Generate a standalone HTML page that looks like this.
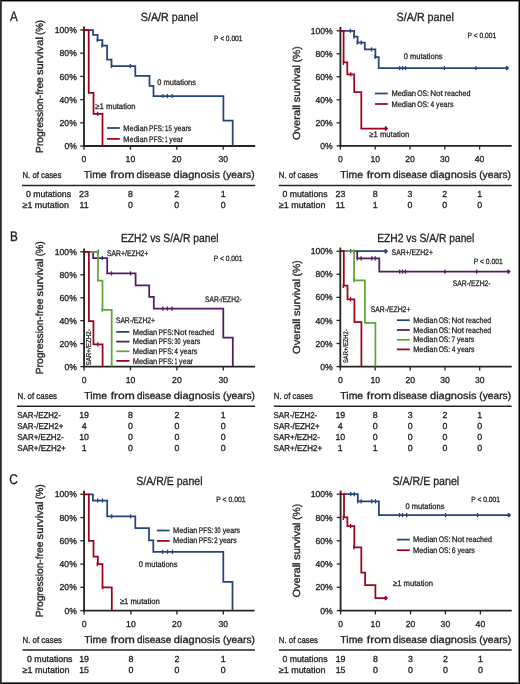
<!DOCTYPE html>
<html><head><meta charset="utf-8"><title>Kaplan-Meier survival curves</title>
<style>
html,body{margin:0;padding:0;background:#fff;}
body{width:520px;height:684px;overflow:hidden;}
svg{display:block;will-change:transform;font-family:"Liberation Sans", sans-serif;text-rendering:geometricPrecision;} text{stroke:#231f20;stroke-width:0.32px;} text.s{stroke-width:0.28px;}
</style></head><body>
<svg width="520" height="684" viewBox="0 0 520 684">
<rect x="0" y="0" width="520" height="684" fill="#fff"/>
<g shape-rendering="crispEdges">
<rect x="0" y="1" width="520" height="1" fill="rgb(140,140,140)"/>
<rect x="0" y="682" width="520" height="1" fill="rgb(100,100,100)"/>
<rect x="518" y="0" width="1" height="684" fill="rgb(128,128,128)"/>
<rect x="1" y="0" width="1" height="684" fill="rgb(85,85,85)"/>
<rect x="0" y="0" width="520" height="1" fill="rgb(5,5,5)"/>
<rect x="0" y="683" width="520" height="1" fill="rgb(20,20,20)"/>
<rect x="0" y="0" width="1" height="684" fill="rgb(45,45,45)"/>
<rect x="519" y="0" width="1" height="684" fill="rgb(5,5,5)"/>
</g>
<text x="10.00" y="20.90" font-size="14" text-anchor="start" fill="#231f20" textLength="7.73" lengthAdjust="spacingAndGlyphs">A</text>
<text x="140.75" y="21.40" font-size="11.8" text-anchor="start" fill="#231f20" textLength="57.30" lengthAdjust="spacingAndGlyphs">S/A/R panel</text>
<text x="214.00" y="40.60" font-size="7.7" text-anchor="start" fill="#231f20" textLength="28.50" lengthAdjust="spacingAndGlyphs" class="s">P &lt; 0.001</text>
<line x1="84.00" y1="26.50" x2="84.00" y2="146.90" stroke="#252525" stroke-width="1.85"/>
<line x1="83.10" y1="146.00" x2="255.20" y2="146.00" stroke="#252525" stroke-width="1.8"/>
<line x1="80.20" y1="30.00" x2="84.00" y2="30.00" stroke="#252525" stroke-width="1.3"/>
<line x1="80.20" y1="53.20" x2="84.00" y2="53.20" stroke="#252525" stroke-width="1.3"/>
<line x1="80.20" y1="76.40" x2="84.00" y2="76.40" stroke="#252525" stroke-width="1.3"/>
<line x1="80.20" y1="99.60" x2="84.00" y2="99.60" stroke="#252525" stroke-width="1.3"/>
<line x1="80.20" y1="122.80" x2="84.00" y2="122.80" stroke="#252525" stroke-width="1.3"/>
<line x1="80.20" y1="146.00" x2="84.00" y2="146.00" stroke="#252525" stroke-width="1.3"/>
<line x1="84.00" y1="146.00" x2="84.00" y2="149.80" stroke="#252525" stroke-width="1.3"/>
<line x1="130.40" y1="146.00" x2="130.40" y2="149.80" stroke="#252525" stroke-width="1.3"/>
<line x1="176.80" y1="146.00" x2="176.80" y2="149.80" stroke="#252525" stroke-width="1.3"/>
<line x1="223.20" y1="146.00" x2="223.20" y2="149.80" stroke="#252525" stroke-width="1.3"/>
<text x="76.80" y="33.10" font-size="8.6" text-anchor="end" fill="#231f20">100%</text>
<text x="76.80" y="56.30" font-size="8.6" text-anchor="end" fill="#231f20">80%</text>
<text x="76.80" y="79.50" font-size="8.6" text-anchor="end" fill="#231f20">60%</text>
<text x="76.80" y="102.70" font-size="8.6" text-anchor="end" fill="#231f20">40%</text>
<text x="76.80" y="125.90" font-size="8.6" text-anchor="end" fill="#231f20">20%</text>
<text x="76.80" y="149.10" font-size="8.6" text-anchor="end" fill="#231f20">0%</text>
<text x="84.00" y="161.70" font-size="8.6" text-anchor="middle" fill="#231f20">0</text>
<text x="130.40" y="161.70" font-size="8.6" text-anchor="middle" fill="#231f20">10</text>
<text x="176.80" y="161.70" font-size="8.6" text-anchor="middle" fill="#231f20">20</text>
<text x="223.20" y="161.70" font-size="8.6" text-anchor="middle" fill="#231f20">30</text>
<text transform="translate(43.10,152.90) rotate(-90)" font-size="10.3" text-anchor="start" fill="#231f20" textLength="75.73" lengthAdjust="spacingAndGlyphs">Progression-free</text>
<text transform="translate(43.10,75.03) rotate(-90)" font-size="10.3" text-anchor="start" fill="#231f20" textLength="37.90" lengthAdjust="spacingAndGlyphs">survival</text>
<text transform="translate(43.10,34.96) rotate(-90)" font-size="10.3" text-anchor="start" fill="#231f20" textLength="15.04" lengthAdjust="spacingAndGlyphs">(%)</text>
<text x="83.89" y="177.80" font-size="10.1" text-anchor="start" fill="#231f20" textLength="22.79" lengthAdjust="spacingAndGlyphs">Time</text>
<text x="110.38" y="177.80" font-size="10.1" text-anchor="start" fill="#231f20" textLength="24.05" lengthAdjust="spacingAndGlyphs">from</text>
<text x="136.61" y="177.80" font-size="10.1" text-anchor="start" fill="#231f20" textLength="34.30" lengthAdjust="spacingAndGlyphs">disease</text>
<text x="173.56" y="177.80" font-size="10.1" text-anchor="start" fill="#231f20" textLength="46.44" lengthAdjust="spacingAndGlyphs">diagnosis</text>
<text x="222.79" y="177.80" font-size="10.1" text-anchor="start" fill="#231f20" textLength="31.84" lengthAdjust="spacingAndGlyphs">(years)</text>
<text x="157.30" y="84.90" font-size="8.1" text-anchor="start" fill="#231f20" textLength="38.70" lengthAdjust="spacingAndGlyphs" class="s">0 mutations</text>
<text x="95.30" y="108.70" font-size="8.1" text-anchor="start" fill="#231f20" textLength="40.30" lengthAdjust="spacingAndGlyphs" class="s">≥1 mutation</text>
<line x1="107.00" y1="128.00" x2="119.80" y2="128.00" stroke="#26447c" stroke-width="1.75"/>
<line x1="107.00" y1="138.85" x2="119.80" y2="138.85" stroke="#a2001d" stroke-width="1.75"/>
<text x="123.36" y="130.80" font-size="8.1" text-anchor="start" fill="#231f20" textLength="24.36" lengthAdjust="spacingAndGlyphs" class="s">Median</text>
<text x="149.03" y="130.80" font-size="8.1" text-anchor="start" fill="#231f20" textLength="14.75" lengthAdjust="spacingAndGlyphs" class="s">PFS:</text>
<text x="165.11" y="130.80" font-size="8.1" text-anchor="start" fill="#231f20" textLength="6.67" lengthAdjust="spacingAndGlyphs" class="s">15</text>
<text x="174.01" y="130.80" font-size="8.1" text-anchor="start" fill="#231f20" textLength="17.26" lengthAdjust="spacingAndGlyphs" class="s">years</text>
<text x="123.36" y="141.50" font-size="8.1" text-anchor="start" fill="#231f20" textLength="24.36" lengthAdjust="spacingAndGlyphs" class="s">Median</text>
<text x="149.03" y="141.50" font-size="8.1" text-anchor="start" fill="#231f20" textLength="14.75" lengthAdjust="spacingAndGlyphs" class="s">PFS:</text>
<text x="164.92" y="141.50" font-size="8.1" text-anchor="start" fill="#231f20" textLength="2.45" lengthAdjust="spacingAndGlyphs" class="s">1</text>
<text x="169.36" y="141.50" font-size="8.1" text-anchor="start" fill="#231f20" textLength="13.72" lengthAdjust="spacingAndGlyphs" class="s">year</text>
<text x="22.50" y="177.50" font-size="8.8" text-anchor="start" fill="#231f20" textLength="38.80" lengthAdjust="spacingAndGlyphs">N. of cases</text>
<line x1="22.00" y1="185.50" x2="255.20" y2="185.50" stroke="#252525" stroke-width="1.4"/>
<text x="26.00" y="197.20" font-size="8.8" text-anchor="start" fill="#231f20" textLength="45.00" lengthAdjust="spacingAndGlyphs">0 mutations</text>
<text x="22.50" y="208.20" font-size="8.8" text-anchor="start" fill="#231f20" textLength="46.50" lengthAdjust="spacingAndGlyphs">≥1 mutation</text>
<text x="84.00" y="197.20" font-size="8.8" text-anchor="middle" fill="#231f20">23</text>
<text x="84.00" y="208.20" font-size="8.8" text-anchor="middle" fill="#231f20">11</text>
<text x="130.40" y="197.20" font-size="8.8" text-anchor="middle" fill="#231f20">8</text>
<text x="130.40" y="208.20" font-size="8.8" text-anchor="middle" fill="#231f20">0</text>
<text x="176.80" y="197.20" font-size="8.8" text-anchor="middle" fill="#231f20">2</text>
<text x="176.80" y="208.20" font-size="8.8" text-anchor="middle" fill="#231f20">0</text>
<text x="223.20" y="197.20" font-size="8.8" text-anchor="middle" fill="#231f20">1</text>
<text x="223.20" y="208.20" font-size="8.8" text-anchor="middle" fill="#231f20">0</text>
<text x="396.60" y="21.40" font-size="11.8" text-anchor="start" fill="#231f20" textLength="57.30" lengthAdjust="spacingAndGlyphs">S/A/R panel</text>
<text x="467.60" y="37.90" font-size="7.7" text-anchor="start" fill="#231f20" textLength="28.50" lengthAdjust="spacingAndGlyphs" class="s">P &lt; 0.001</text>
<line x1="340.40" y1="26.80" x2="340.40" y2="146.70" stroke="#252525" stroke-width="1.85"/>
<line x1="339.50" y1="145.80" x2="511.70" y2="145.80" stroke="#252525" stroke-width="1.8"/>
<line x1="336.60" y1="30.80" x2="340.40" y2="30.80" stroke="#252525" stroke-width="1.3"/>
<line x1="336.60" y1="53.80" x2="340.40" y2="53.80" stroke="#252525" stroke-width="1.3"/>
<line x1="336.60" y1="76.80" x2="340.40" y2="76.80" stroke="#252525" stroke-width="1.3"/>
<line x1="336.60" y1="99.80" x2="340.40" y2="99.80" stroke="#252525" stroke-width="1.3"/>
<line x1="336.60" y1="122.80" x2="340.40" y2="122.80" stroke="#252525" stroke-width="1.3"/>
<line x1="336.60" y1="145.80" x2="340.40" y2="145.80" stroke="#252525" stroke-width="1.3"/>
<line x1="340.40" y1="145.80" x2="340.40" y2="149.60" stroke="#252525" stroke-width="1.3"/>
<line x1="375.20" y1="145.80" x2="375.20" y2="149.60" stroke="#252525" stroke-width="1.3"/>
<line x1="410.00" y1="145.80" x2="410.00" y2="149.60" stroke="#252525" stroke-width="1.3"/>
<line x1="444.80" y1="145.80" x2="444.80" y2="149.60" stroke="#252525" stroke-width="1.3"/>
<line x1="479.60" y1="145.80" x2="479.60" y2="149.60" stroke="#252525" stroke-width="1.3"/>
<text x="332.70" y="33.90" font-size="8.6" text-anchor="end" fill="#231f20">100%</text>
<text x="332.70" y="56.90" font-size="8.6" text-anchor="end" fill="#231f20">80%</text>
<text x="332.70" y="79.90" font-size="8.6" text-anchor="end" fill="#231f20">60%</text>
<text x="332.70" y="102.90" font-size="8.6" text-anchor="end" fill="#231f20">40%</text>
<text x="332.70" y="125.90" font-size="8.6" text-anchor="end" fill="#231f20">20%</text>
<text x="332.70" y="148.90" font-size="8.6" text-anchor="end" fill="#231f20">0%</text>
<text x="340.40" y="162.20" font-size="8.6" text-anchor="middle" fill="#231f20">0</text>
<text x="375.20" y="162.20" font-size="8.6" text-anchor="middle" fill="#231f20">10</text>
<text x="410.00" y="162.20" font-size="8.6" text-anchor="middle" fill="#231f20">20</text>
<text x="444.80" y="162.20" font-size="8.6" text-anchor="middle" fill="#231f20">30</text>
<text x="479.60" y="162.20" font-size="8.6" text-anchor="middle" fill="#231f20">40</text>
<text transform="translate(300.00,140.04) rotate(-90)" font-size="10.3" text-anchor="start" fill="#231f20" textLength="35.12" lengthAdjust="spacingAndGlyphs">Overall</text>
<text transform="translate(300.00,102.22) rotate(-90)" font-size="10.3" text-anchor="start" fill="#231f20" textLength="37.28" lengthAdjust="spacingAndGlyphs">survival</text>
<text transform="translate(300.00,62.50) rotate(-90)" font-size="10.3" text-anchor="start" fill="#231f20" textLength="16.13" lengthAdjust="spacingAndGlyphs">(%)</text>
<text x="340.29" y="177.80" font-size="10.1" text-anchor="start" fill="#231f20" textLength="22.79" lengthAdjust="spacingAndGlyphs">Time</text>
<text x="366.78" y="177.80" font-size="10.1" text-anchor="start" fill="#231f20" textLength="24.05" lengthAdjust="spacingAndGlyphs">from</text>
<text x="393.01" y="177.80" font-size="10.1" text-anchor="start" fill="#231f20" textLength="34.30" lengthAdjust="spacingAndGlyphs">disease</text>
<text x="429.96" y="177.80" font-size="10.1" text-anchor="start" fill="#231f20" textLength="46.44" lengthAdjust="spacingAndGlyphs">diagnosis</text>
<text x="479.19" y="177.80" font-size="10.1" text-anchor="start" fill="#231f20" textLength="31.84" lengthAdjust="spacingAndGlyphs">(years)</text>
<text x="403.70" y="58.90" font-size="8.1" text-anchor="start" fill="#231f20" textLength="38.90" lengthAdjust="spacingAndGlyphs" class="s">0 mutations</text>
<text x="369.30" y="136.60" font-size="8.1" text-anchor="start" fill="#231f20" textLength="40.00" lengthAdjust="spacingAndGlyphs" class="s">≥1 mutation</text>
<line x1="375.00" y1="93.50" x2="387.80" y2="93.50" stroke="#26447c" stroke-width="1.75"/>
<line x1="375.00" y1="104.00" x2="387.80" y2="104.00" stroke="#a2001d" stroke-width="1.75"/>
<text x="391.45" y="96.20" font-size="8.1" text-anchor="start" fill="#231f20" textLength="24.61" lengthAdjust="spacingAndGlyphs" class="s">Median</text>
<text x="417.22" y="96.20" font-size="8.1" text-anchor="start" fill="#231f20" textLength="11.68" lengthAdjust="spacingAndGlyphs" class="s">OS:</text>
<text x="430.18" y="96.20" font-size="8.1" text-anchor="start" fill="#231f20" textLength="12.63" lengthAdjust="spacingAndGlyphs" class="s">Not</text>
<text x="444.58" y="96.20" font-size="8.1" text-anchor="start" fill="#231f20" textLength="25.81" lengthAdjust="spacingAndGlyphs" class="s">reached</text>
<text x="391.45" y="106.80" font-size="8.1" text-anchor="start" fill="#231f20" textLength="24.61" lengthAdjust="spacingAndGlyphs" class="s">Median</text>
<text x="417.22" y="106.80" font-size="8.1" text-anchor="start" fill="#231f20" textLength="11.68" lengthAdjust="spacingAndGlyphs" class="s">OS:</text>
<text x="430.42" y="106.80" font-size="8.1" text-anchor="start" fill="#231f20" textLength="3.66" lengthAdjust="spacingAndGlyphs" class="s">4</text>
<text x="436.10" y="106.80" font-size="8.1" text-anchor="start" fill="#231f20" textLength="17.43" lengthAdjust="spacingAndGlyphs" class="s">years</text>
<text x="278.80" y="177.50" font-size="8.8" text-anchor="start" fill="#231f20" textLength="39.20" lengthAdjust="spacingAndGlyphs">N. of cases</text>
<line x1="278.80" y1="185.50" x2="511.70" y2="185.50" stroke="#252525" stroke-width="1.4"/>
<text x="282.50" y="197.20" font-size="8.8" text-anchor="start" fill="#231f20" textLength="45.00" lengthAdjust="spacingAndGlyphs">0 mutations</text>
<text x="278.80" y="208.20" font-size="8.8" text-anchor="start" fill="#231f20" textLength="46.70" lengthAdjust="spacingAndGlyphs">≥1 mutation</text>
<text x="340.40" y="197.20" font-size="8.8" text-anchor="middle" fill="#231f20">23</text>
<text x="340.40" y="208.20" font-size="8.8" text-anchor="middle" fill="#231f20">11</text>
<text x="375.20" y="197.20" font-size="8.8" text-anchor="middle" fill="#231f20">8</text>
<text x="375.20" y="208.20" font-size="8.8" text-anchor="middle" fill="#231f20">1</text>
<text x="410.00" y="197.20" font-size="8.8" text-anchor="middle" fill="#231f20">3</text>
<text x="410.00" y="208.20" font-size="8.8" text-anchor="middle" fill="#231f20">0</text>
<text x="444.80" y="197.20" font-size="8.8" text-anchor="middle" fill="#231f20">2</text>
<text x="444.80" y="208.20" font-size="8.8" text-anchor="middle" fill="#231f20">0</text>
<text x="479.60" y="197.20" font-size="8.8" text-anchor="middle" fill="#231f20">1</text>
<text x="479.60" y="208.20" font-size="8.8" text-anchor="middle" fill="#231f20">0</text>
<text x="10.08" y="241.00" font-size="14" text-anchor="start" fill="#231f20" textLength="7.84" lengthAdjust="spacingAndGlyphs">B</text>
<text x="120.90" y="241.70" font-size="11.8" text-anchor="start" fill="#231f20" textLength="97.60" lengthAdjust="spacingAndGlyphs">EZH2 vs S/A/R panel</text>
<text x="213.80" y="261.30" font-size="7.7" text-anchor="start" fill="#231f20" textLength="28.70" lengthAdjust="spacingAndGlyphs" class="s">P &lt; 0.001</text>
<line x1="84.10" y1="248.50" x2="84.10" y2="367.50" stroke="#252525" stroke-width="1.85"/>
<line x1="83.20" y1="366.60" x2="255.00" y2="366.60" stroke="#252525" stroke-width="1.8"/>
<line x1="80.30" y1="251.80" x2="84.10" y2="251.80" stroke="#252525" stroke-width="1.3"/>
<line x1="80.30" y1="274.76" x2="84.10" y2="274.76" stroke="#252525" stroke-width="1.3"/>
<line x1="80.30" y1="297.72" x2="84.10" y2="297.72" stroke="#252525" stroke-width="1.3"/>
<line x1="80.30" y1="320.68" x2="84.10" y2="320.68" stroke="#252525" stroke-width="1.3"/>
<line x1="80.30" y1="343.64" x2="84.10" y2="343.64" stroke="#252525" stroke-width="1.3"/>
<line x1="80.30" y1="366.60" x2="84.10" y2="366.60" stroke="#252525" stroke-width="1.3"/>
<line x1="84.10" y1="366.60" x2="84.10" y2="370.40" stroke="#252525" stroke-width="1.3"/>
<line x1="130.50" y1="366.60" x2="130.50" y2="370.40" stroke="#252525" stroke-width="1.3"/>
<line x1="176.90" y1="366.60" x2="176.90" y2="370.40" stroke="#252525" stroke-width="1.3"/>
<line x1="223.30" y1="366.60" x2="223.30" y2="370.40" stroke="#252525" stroke-width="1.3"/>
<text x="76.80" y="254.90" font-size="8.6" text-anchor="end" fill="#231f20">100%</text>
<text x="76.80" y="277.86" font-size="8.6" text-anchor="end" fill="#231f20">80%</text>
<text x="76.80" y="300.82" font-size="8.6" text-anchor="end" fill="#231f20">60%</text>
<text x="76.80" y="323.78" font-size="8.6" text-anchor="end" fill="#231f20">40%</text>
<text x="76.80" y="346.74" font-size="8.6" text-anchor="end" fill="#231f20">20%</text>
<text x="76.80" y="369.70" font-size="8.6" text-anchor="end" fill="#231f20">0%</text>
<text x="84.10" y="383.00" font-size="8.6" text-anchor="middle" fill="#231f20">0</text>
<text x="130.50" y="383.00" font-size="8.6" text-anchor="middle" fill="#231f20">10</text>
<text x="176.90" y="383.00" font-size="8.6" text-anchor="middle" fill="#231f20">20</text>
<text x="223.30" y="383.00" font-size="8.6" text-anchor="middle" fill="#231f20">30</text>
<text transform="translate(43.10,374.30) rotate(-90)" font-size="10.3" text-anchor="start" fill="#231f20" textLength="75.73" lengthAdjust="spacingAndGlyphs">Progression-free</text>
<text transform="translate(43.10,296.43) rotate(-90)" font-size="10.3" text-anchor="start" fill="#231f20" textLength="37.90" lengthAdjust="spacingAndGlyphs">survival</text>
<text transform="translate(43.10,256.36) rotate(-90)" font-size="10.3" text-anchor="start" fill="#231f20" textLength="15.04" lengthAdjust="spacingAndGlyphs">(%)</text>
<text x="84.19" y="398.80" font-size="10.1" text-anchor="start" fill="#231f20" textLength="22.79" lengthAdjust="spacingAndGlyphs">Time</text>
<text x="110.68" y="398.80" font-size="10.1" text-anchor="start" fill="#231f20" textLength="24.05" lengthAdjust="spacingAndGlyphs">from</text>
<text x="136.91" y="398.80" font-size="10.1" text-anchor="start" fill="#231f20" textLength="34.30" lengthAdjust="spacingAndGlyphs">disease</text>
<text x="173.86" y="398.80" font-size="10.1" text-anchor="start" fill="#231f20" textLength="46.44" lengthAdjust="spacingAndGlyphs">diagnosis</text>
<text x="223.09" y="398.80" font-size="10.1" text-anchor="start" fill="#231f20" textLength="31.84" lengthAdjust="spacingAndGlyphs">(years)</text>
<text x="106.90" y="255.80" font-size="8.1" text-anchor="start" fill="#231f20" textLength="41.50" lengthAdjust="spacingAndGlyphs" class="s">SAR+/EZH2+</text>
<text x="205.10" y="302.40" font-size="8.1" text-anchor="start" fill="#231f20" textLength="36.70" lengthAdjust="spacingAndGlyphs" class="s">SAR-/EZH2-</text>
<text x="115.90" y="323.20" font-size="8.1" text-anchor="start" fill="#231f20" textLength="39.10" lengthAdjust="spacingAndGlyphs" class="s">SAR-/EZH2+</text>
<text transform="translate(91.00,365.50) rotate(-90)" font-size="7.0" text-anchor="start" fill="#231f20" textLength="36.30" lengthAdjust="spacingAndGlyphs" class="s">SAR+/EZH2-</text>
<line x1="116.30" y1="331.90" x2="129.40" y2="331.90" stroke="#26447c" stroke-width="1.75"/>
<text x="132.65" y="334.55" font-size="8.1" text-anchor="start" fill="#231f20" textLength="24.61" lengthAdjust="spacingAndGlyphs" class="s">Median</text>
<text x="158.58" y="334.55" font-size="8.1" text-anchor="start" fill="#231f20" textLength="14.90" lengthAdjust="spacingAndGlyphs" class="s">PFS:</text>
<text x="174.06" y="334.55" font-size="8.1" text-anchor="start" fill="#231f20" textLength="12.63" lengthAdjust="spacingAndGlyphs" class="s">Not</text>
<text x="188.46" y="334.55" font-size="8.1" text-anchor="start" fill="#231f20" textLength="25.81" lengthAdjust="spacingAndGlyphs" class="s">reached</text>
<line x1="116.30" y1="341.60" x2="129.40" y2="341.60" stroke="#511c62" stroke-width="1.75"/>
<text x="132.65" y="344.25" font-size="8.1" text-anchor="start" fill="#231f20" textLength="24.61" lengthAdjust="spacingAndGlyphs" class="s">Median</text>
<text x="158.58" y="344.25" font-size="8.1" text-anchor="start" fill="#231f20" textLength="14.90" lengthAdjust="spacingAndGlyphs" class="s">PFS:</text>
<text x="174.56" y="344.25" font-size="8.1" text-anchor="start" fill="#231f20" textLength="6.07" lengthAdjust="spacingAndGlyphs" class="s">30</text>
<text x="182.90" y="344.25" font-size="8.1" text-anchor="start" fill="#231f20" textLength="17.43" lengthAdjust="spacingAndGlyphs" class="s">years</text>
<line x1="116.30" y1="351.30" x2="129.40" y2="351.30" stroke="#60a539" stroke-width="1.75"/>
<text x="132.65" y="353.95" font-size="8.1" text-anchor="start" fill="#231f20" textLength="24.61" lengthAdjust="spacingAndGlyphs" class="s">Median</text>
<text x="158.58" y="353.95" font-size="8.1" text-anchor="start" fill="#231f20" textLength="14.90" lengthAdjust="spacingAndGlyphs" class="s">PFS:</text>
<text x="174.30" y="353.95" font-size="8.1" text-anchor="start" fill="#231f20" textLength="3.66" lengthAdjust="spacingAndGlyphs" class="s">4</text>
<text x="179.97" y="353.95" font-size="8.1" text-anchor="start" fill="#231f20" textLength="17.43" lengthAdjust="spacingAndGlyphs" class="s">years</text>
<line x1="116.30" y1="360.90" x2="129.40" y2="360.90" stroke="#a2001d" stroke-width="1.75"/>
<text x="132.65" y="363.55" font-size="8.1" text-anchor="start" fill="#231f20" textLength="24.61" lengthAdjust="spacingAndGlyphs" class="s">Median</text>
<text x="158.58" y="363.55" font-size="8.1" text-anchor="start" fill="#231f20" textLength="14.90" lengthAdjust="spacingAndGlyphs" class="s">PFS:</text>
<text x="174.64" y="363.55" font-size="8.1" text-anchor="start" fill="#231f20" textLength="2.47" lengthAdjust="spacingAndGlyphs" class="s">1</text>
<text x="179.12" y="363.55" font-size="8.1" text-anchor="start" fill="#231f20" textLength="13.87" lengthAdjust="spacingAndGlyphs" class="s">year</text>
<text x="17.50" y="398.60" font-size="8.8" text-anchor="start" fill="#231f20" textLength="39.50" lengthAdjust="spacingAndGlyphs">N. of cases</text>
<line x1="17.00" y1="406.30" x2="255.00" y2="406.30" stroke="#252525" stroke-width="1.4"/>
<text x="17.30" y="418.30" font-size="8.6" text-anchor="start" fill="#231f20" textLength="43.50" lengthAdjust="spacingAndGlyphs">SAR-/EZH2-</text>
<text x="84.10" y="418.30" font-size="8.8" text-anchor="middle" fill="#231f20">19</text>
<text x="130.50" y="418.30" font-size="8.8" text-anchor="middle" fill="#231f20">8</text>
<text x="176.90" y="418.30" font-size="8.8" text-anchor="middle" fill="#231f20">2</text>
<text x="223.30" y="418.30" font-size="8.8" text-anchor="middle" fill="#231f20">1</text>
<text x="17.30" y="429.10" font-size="8.6" text-anchor="start" fill="#231f20" textLength="46.00" lengthAdjust="spacingAndGlyphs">SAR-/EZH2+</text>
<text x="84.10" y="429.10" font-size="8.8" text-anchor="middle" fill="#231f20">4</text>
<text x="130.50" y="429.10" font-size="8.8" text-anchor="middle" fill="#231f20">0</text>
<text x="176.90" y="429.10" font-size="8.8" text-anchor="middle" fill="#231f20">0</text>
<text x="223.30" y="429.10" font-size="8.8" text-anchor="middle" fill="#231f20">0</text>
<text x="17.30" y="440.30" font-size="8.6" text-anchor="start" fill="#231f20" textLength="46.30" lengthAdjust="spacingAndGlyphs">SAR+/EZH2-</text>
<text x="84.10" y="440.30" font-size="8.8" text-anchor="middle" fill="#231f20">10</text>
<text x="130.50" y="440.30" font-size="8.8" text-anchor="middle" fill="#231f20">0</text>
<text x="176.90" y="440.30" font-size="8.8" text-anchor="middle" fill="#231f20">0</text>
<text x="223.30" y="440.30" font-size="8.8" text-anchor="middle" fill="#231f20">0</text>
<text x="17.30" y="451.20" font-size="8.6" text-anchor="start" fill="#231f20" textLength="48.50" lengthAdjust="spacingAndGlyphs">SAR+/EZH2+</text>
<text x="84.10" y="451.20" font-size="8.8" text-anchor="middle" fill="#231f20">1</text>
<text x="130.50" y="451.20" font-size="8.8" text-anchor="middle" fill="#231f20">0</text>
<text x="176.90" y="451.20" font-size="8.8" text-anchor="middle" fill="#231f20">0</text>
<text x="223.30" y="451.20" font-size="8.8" text-anchor="middle" fill="#231f20">0</text>
<text x="377.20" y="241.80" font-size="11.8" text-anchor="start" fill="#231f20" textLength="97.20" lengthAdjust="spacingAndGlyphs">EZH2 vs S/A/R panel</text>
<text x="473.80" y="263.90" font-size="7.7" text-anchor="start" fill="#231f20" textLength="28.90" lengthAdjust="spacingAndGlyphs" class="s">P &lt; 0.001</text>
<line x1="340.30" y1="247.50" x2="340.30" y2="367.50" stroke="#252525" stroke-width="1.85"/>
<line x1="339.40" y1="366.60" x2="511.70" y2="366.60" stroke="#252525" stroke-width="1.8"/>
<line x1="336.50" y1="251.20" x2="340.30" y2="251.20" stroke="#252525" stroke-width="1.3"/>
<line x1="336.50" y1="274.28" x2="340.30" y2="274.28" stroke="#252525" stroke-width="1.3"/>
<line x1="336.50" y1="297.36" x2="340.30" y2="297.36" stroke="#252525" stroke-width="1.3"/>
<line x1="336.50" y1="320.44" x2="340.30" y2="320.44" stroke="#252525" stroke-width="1.3"/>
<line x1="336.50" y1="343.52" x2="340.30" y2="343.52" stroke="#252525" stroke-width="1.3"/>
<line x1="336.50" y1="366.60" x2="340.30" y2="366.60" stroke="#252525" stroke-width="1.3"/>
<line x1="340.30" y1="366.60" x2="340.30" y2="370.40" stroke="#252525" stroke-width="1.3"/>
<line x1="375.20" y1="366.60" x2="375.20" y2="370.40" stroke="#252525" stroke-width="1.3"/>
<line x1="410.20" y1="366.60" x2="410.20" y2="370.40" stroke="#252525" stroke-width="1.3"/>
<line x1="445.00" y1="366.60" x2="445.00" y2="370.40" stroke="#252525" stroke-width="1.3"/>
<line x1="479.70" y1="366.60" x2="479.70" y2="370.40" stroke="#252525" stroke-width="1.3"/>
<text x="332.70" y="254.30" font-size="8.6" text-anchor="end" fill="#231f20">100%</text>
<text x="332.70" y="277.38" font-size="8.6" text-anchor="end" fill="#231f20">80%</text>
<text x="332.70" y="300.46" font-size="8.6" text-anchor="end" fill="#231f20">60%</text>
<text x="332.70" y="323.54" font-size="8.6" text-anchor="end" fill="#231f20">40%</text>
<text x="332.70" y="346.62" font-size="8.6" text-anchor="end" fill="#231f20">20%</text>
<text x="332.70" y="369.70" font-size="8.6" text-anchor="end" fill="#231f20">0%</text>
<text x="340.30" y="383.00" font-size="8.6" text-anchor="middle" fill="#231f20">0</text>
<text x="375.20" y="383.00" font-size="8.6" text-anchor="middle" fill="#231f20">10</text>
<text x="410.20" y="383.00" font-size="8.6" text-anchor="middle" fill="#231f20">20</text>
<text x="445.00" y="383.00" font-size="8.6" text-anchor="middle" fill="#231f20">30</text>
<text x="479.70" y="383.00" font-size="8.6" text-anchor="middle" fill="#231f20">30</text>
<text transform="translate(300.00,353.94) rotate(-90)" font-size="10.3" text-anchor="start" fill="#231f20" textLength="35.12" lengthAdjust="spacingAndGlyphs">Overall</text>
<text transform="translate(300.00,316.12) rotate(-90)" font-size="10.3" text-anchor="start" fill="#231f20" textLength="37.28" lengthAdjust="spacingAndGlyphs">survival</text>
<text transform="translate(300.00,276.40) rotate(-90)" font-size="10.3" text-anchor="start" fill="#231f20" textLength="16.13" lengthAdjust="spacingAndGlyphs">(%)</text>
<text x="340.39" y="398.80" font-size="10.1" text-anchor="start" fill="#231f20" textLength="22.79" lengthAdjust="spacingAndGlyphs">Time</text>
<text x="366.88" y="398.80" font-size="10.1" text-anchor="start" fill="#231f20" textLength="24.05" lengthAdjust="spacingAndGlyphs">from</text>
<text x="393.11" y="398.80" font-size="10.1" text-anchor="start" fill="#231f20" textLength="34.30" lengthAdjust="spacingAndGlyphs">disease</text>
<text x="430.06" y="398.80" font-size="10.1" text-anchor="start" fill="#231f20" textLength="46.44" lengthAdjust="spacingAndGlyphs">diagnosis</text>
<text x="479.29" y="398.80" font-size="10.1" text-anchor="start" fill="#231f20" textLength="31.84" lengthAdjust="spacingAndGlyphs">(years)</text>
<text x="391.60" y="255.40" font-size="8.1" text-anchor="start" fill="#231f20" textLength="41.30" lengthAdjust="spacingAndGlyphs" class="s">SAR+/EZH2+</text>
<text x="452.80" y="285.50" font-size="8.1" text-anchor="start" fill="#231f20" textLength="37.80" lengthAdjust="spacingAndGlyphs" class="s">SAR-/EZH2-</text>
<text x="370.70" y="311.90" font-size="8.1" text-anchor="start" fill="#231f20" textLength="39.70" lengthAdjust="spacingAndGlyphs" class="s">SAR-/EZH2+</text>
<text transform="translate(348.30,363.00) rotate(-90)" font-size="6.6" text-anchor="start" fill="#231f20" textLength="33.70" lengthAdjust="spacingAndGlyphs" class="s">SAR+/EZH2-</text>
<line x1="396.90" y1="320.20" x2="409.80" y2="320.20" stroke="#26447c" stroke-width="1.75"/>
<text x="413.16" y="322.85" font-size="8.1" text-anchor="start" fill="#231f20" textLength="24.36" lengthAdjust="spacingAndGlyphs" class="s">Median</text>
<text x="438.67" y="322.85" font-size="8.1" text-anchor="start" fill="#231f20" textLength="11.56" lengthAdjust="spacingAndGlyphs" class="s">OS:</text>
<text x="451.51" y="322.85" font-size="8.1" text-anchor="start" fill="#231f20" textLength="12.50" lengthAdjust="spacingAndGlyphs" class="s">Not</text>
<text x="465.76" y="322.85" font-size="8.1" text-anchor="start" fill="#231f20" textLength="25.55" lengthAdjust="spacingAndGlyphs" class="s">reached</text>
<line x1="396.90" y1="330.00" x2="409.80" y2="330.00" stroke="#511c62" stroke-width="1.75"/>
<text x="413.16" y="332.65" font-size="8.1" text-anchor="start" fill="#231f20" textLength="24.36" lengthAdjust="spacingAndGlyphs" class="s">Median</text>
<text x="438.67" y="332.65" font-size="8.1" text-anchor="start" fill="#231f20" textLength="11.56" lengthAdjust="spacingAndGlyphs" class="s">OS:</text>
<text x="451.51" y="332.65" font-size="8.1" text-anchor="start" fill="#231f20" textLength="12.50" lengthAdjust="spacingAndGlyphs" class="s">Not</text>
<text x="465.76" y="332.65" font-size="8.1" text-anchor="start" fill="#231f20" textLength="25.55" lengthAdjust="spacingAndGlyphs" class="s">reached</text>
<line x1="396.90" y1="339.80" x2="409.80" y2="339.80" stroke="#60a539" stroke-width="1.75"/>
<text x="413.16" y="342.45" font-size="8.1" text-anchor="start" fill="#231f20" textLength="24.36" lengthAdjust="spacingAndGlyphs" class="s">Median</text>
<text x="438.67" y="342.45" font-size="8.1" text-anchor="start" fill="#231f20" textLength="11.56" lengthAdjust="spacingAndGlyphs" class="s">OS:</text>
<text x="451.58" y="342.45" font-size="8.1" text-anchor="start" fill="#231f20" textLength="3.65" lengthAdjust="spacingAndGlyphs" class="s">7</text>
<text x="457.06" y="342.45" font-size="8.1" text-anchor="start" fill="#231f20" textLength="17.26" lengthAdjust="spacingAndGlyphs" class="s">years</text>
<line x1="396.90" y1="349.40" x2="409.80" y2="349.40" stroke="#a2001d" stroke-width="1.75"/>
<text x="413.16" y="352.05" font-size="8.1" text-anchor="start" fill="#231f20" textLength="24.36" lengthAdjust="spacingAndGlyphs" class="s">Median</text>
<text x="438.67" y="352.05" font-size="8.1" text-anchor="start" fill="#231f20" textLength="11.56" lengthAdjust="spacingAndGlyphs" class="s">OS:</text>
<text x="451.74" y="352.05" font-size="8.1" text-anchor="start" fill="#231f20" textLength="3.63" lengthAdjust="spacingAndGlyphs" class="s">4</text>
<text x="457.36" y="352.05" font-size="8.1" text-anchor="start" fill="#231f20" textLength="17.26" lengthAdjust="spacingAndGlyphs" class="s">years</text>
<text x="273.80" y="398.60" font-size="8.8" text-anchor="start" fill="#231f20" textLength="39.20" lengthAdjust="spacingAndGlyphs">N. of cases</text>
<line x1="273.80" y1="406.30" x2="511.70" y2="406.30" stroke="#252525" stroke-width="1.4"/>
<text x="273.60" y="418.30" font-size="8.6" text-anchor="start" fill="#231f20" textLength="43.50" lengthAdjust="spacingAndGlyphs">SAR-/EZH2-</text>
<text x="340.30" y="418.30" font-size="8.8" text-anchor="middle" fill="#231f20">19</text>
<text x="375.20" y="418.30" font-size="8.8" text-anchor="middle" fill="#231f20">8</text>
<text x="410.20" y="418.30" font-size="8.8" text-anchor="middle" fill="#231f20">3</text>
<text x="445.00" y="418.30" font-size="8.8" text-anchor="middle" fill="#231f20">2</text>
<text x="479.70" y="418.30" font-size="8.8" text-anchor="middle" fill="#231f20">1</text>
<text x="273.60" y="429.10" font-size="8.6" text-anchor="start" fill="#231f20" textLength="46.00" lengthAdjust="spacingAndGlyphs">SAR-/EZH2+</text>
<text x="340.30" y="429.10" font-size="8.8" text-anchor="middle" fill="#231f20">4</text>
<text x="375.20" y="429.10" font-size="8.8" text-anchor="middle" fill="#231f20">0</text>
<text x="410.20" y="429.10" font-size="8.8" text-anchor="middle" fill="#231f20">0</text>
<text x="445.00" y="429.10" font-size="8.8" text-anchor="middle" fill="#231f20">0</text>
<text x="479.70" y="429.10" font-size="8.8" text-anchor="middle" fill="#231f20">0</text>
<text x="273.60" y="440.30" font-size="8.6" text-anchor="start" fill="#231f20" textLength="46.30" lengthAdjust="spacingAndGlyphs">SAR+/EZH2-</text>
<text x="340.30" y="440.30" font-size="8.8" text-anchor="middle" fill="#231f20">10</text>
<text x="375.20" y="440.30" font-size="8.8" text-anchor="middle" fill="#231f20">0</text>
<text x="410.20" y="440.30" font-size="8.8" text-anchor="middle" fill="#231f20">0</text>
<text x="445.00" y="440.30" font-size="8.8" text-anchor="middle" fill="#231f20">0</text>
<text x="479.70" y="440.30" font-size="8.8" text-anchor="middle" fill="#231f20">0</text>
<text x="273.60" y="451.20" font-size="8.6" text-anchor="start" fill="#231f20" textLength="48.50" lengthAdjust="spacingAndGlyphs">SAR+/EZH2+</text>
<text x="340.30" y="451.20" font-size="8.8" text-anchor="middle" fill="#231f20">1</text>
<text x="375.20" y="451.20" font-size="8.8" text-anchor="middle" fill="#231f20">1</text>
<text x="410.20" y="451.20" font-size="8.8" text-anchor="middle" fill="#231f20">0</text>
<text x="445.00" y="451.20" font-size="8.8" text-anchor="middle" fill="#231f20">0</text>
<text x="479.70" y="451.20" font-size="8.8" text-anchor="middle" fill="#231f20">0</text>
<text x="9.30" y="483.60" font-size="14" text-anchor="start" fill="#231f20" textLength="8.62" lengthAdjust="spacingAndGlyphs">C</text>
<text x="136.30" y="484.60" font-size="11.8" text-anchor="start" fill="#231f20" textLength="66.20" lengthAdjust="spacingAndGlyphs">S/A/R/E panel</text>
<text x="216.30" y="502.40" font-size="7.7" text-anchor="start" fill="#231f20" textLength="29.20" lengthAdjust="spacingAndGlyphs" class="s">P &lt; 0.001</text>
<line x1="84.10" y1="490.60" x2="84.10" y2="611.50" stroke="#252525" stroke-width="1.85"/>
<line x1="83.20" y1="610.60" x2="254.50" y2="610.60" stroke="#252525" stroke-width="1.8"/>
<line x1="80.30" y1="494.30" x2="84.10" y2="494.30" stroke="#252525" stroke-width="1.3"/>
<line x1="80.30" y1="517.56" x2="84.10" y2="517.56" stroke="#252525" stroke-width="1.3"/>
<line x1="80.30" y1="540.82" x2="84.10" y2="540.82" stroke="#252525" stroke-width="1.3"/>
<line x1="80.30" y1="564.08" x2="84.10" y2="564.08" stroke="#252525" stroke-width="1.3"/>
<line x1="80.30" y1="587.34" x2="84.10" y2="587.34" stroke="#252525" stroke-width="1.3"/>
<line x1="80.30" y1="610.60" x2="84.10" y2="610.60" stroke="#252525" stroke-width="1.3"/>
<line x1="84.10" y1="610.60" x2="84.10" y2="614.40" stroke="#252525" stroke-width="1.3"/>
<line x1="130.90" y1="610.60" x2="130.90" y2="614.40" stroke="#252525" stroke-width="1.3"/>
<line x1="176.90" y1="610.60" x2="176.90" y2="614.40" stroke="#252525" stroke-width="1.3"/>
<line x1="223.30" y1="610.60" x2="223.30" y2="614.40" stroke="#252525" stroke-width="1.3"/>
<text x="76.80" y="497.40" font-size="8.6" text-anchor="end" fill="#231f20">100%</text>
<text x="76.80" y="520.66" font-size="8.6" text-anchor="end" fill="#231f20">80%</text>
<text x="76.80" y="543.92" font-size="8.6" text-anchor="end" fill="#231f20">60%</text>
<text x="76.80" y="567.18" font-size="8.6" text-anchor="end" fill="#231f20">40%</text>
<text x="76.80" y="590.44" font-size="8.6" text-anchor="end" fill="#231f20">20%</text>
<text x="76.80" y="613.70" font-size="8.6" text-anchor="end" fill="#231f20">0%</text>
<text x="84.10" y="627.20" font-size="8.6" text-anchor="middle" fill="#231f20">0</text>
<text x="130.90" y="627.20" font-size="8.6" text-anchor="middle" fill="#231f20">10</text>
<text x="176.90" y="627.20" font-size="8.6" text-anchor="middle" fill="#231f20">20</text>
<text x="223.30" y="627.20" font-size="8.6" text-anchor="middle" fill="#231f20">30</text>
<text transform="translate(43.10,617.30) rotate(-90)" font-size="10.3" text-anchor="start" fill="#231f20" textLength="75.73" lengthAdjust="spacingAndGlyphs">Progression-free</text>
<text transform="translate(43.10,539.43) rotate(-90)" font-size="10.3" text-anchor="start" fill="#231f20" textLength="37.90" lengthAdjust="spacingAndGlyphs">survival</text>
<text transform="translate(43.10,499.36) rotate(-90)" font-size="10.3" text-anchor="start" fill="#231f20" textLength="15.04" lengthAdjust="spacingAndGlyphs">(%)</text>
<text x="84.19" y="643.30" font-size="10.1" text-anchor="start" fill="#231f20" textLength="22.79" lengthAdjust="spacingAndGlyphs">Time</text>
<text x="110.68" y="643.30" font-size="10.1" text-anchor="start" fill="#231f20" textLength="24.05" lengthAdjust="spacingAndGlyphs">from</text>
<text x="136.91" y="643.30" font-size="10.1" text-anchor="start" fill="#231f20" textLength="34.30" lengthAdjust="spacingAndGlyphs">disease</text>
<text x="173.86" y="643.30" font-size="10.1" text-anchor="start" fill="#231f20" textLength="46.44" lengthAdjust="spacingAndGlyphs">diagnosis</text>
<text x="223.09" y="643.30" font-size="10.1" text-anchor="start" fill="#231f20" textLength="31.84" lengthAdjust="spacingAndGlyphs">(years)</text>
<text x="138.80" y="566.90" font-size="8.1" text-anchor="start" fill="#231f20" textLength="38.70" lengthAdjust="spacingAndGlyphs" class="s">0 mutations</text>
<text x="119.90" y="603.70" font-size="8.1" text-anchor="start" fill="#231f20" textLength="40.00" lengthAdjust="spacingAndGlyphs" class="s">≥1 mutation</text>
<line x1="156.90" y1="530.50" x2="169.60" y2="530.50" stroke="#26447c" stroke-width="1.75"/>
<line x1="156.90" y1="540.90" x2="169.60" y2="540.90" stroke="#a2001d" stroke-width="1.75"/>
<text x="173.06" y="533.00" font-size="8.1" text-anchor="start" fill="#231f20" textLength="24.36" lengthAdjust="spacingAndGlyphs" class="s">Median</text>
<text x="198.73" y="533.00" font-size="8.1" text-anchor="start" fill="#231f20" textLength="14.75" lengthAdjust="spacingAndGlyphs" class="s">PFS:</text>
<text x="214.55" y="533.00" font-size="8.1" text-anchor="start" fill="#231f20" textLength="6.01" lengthAdjust="spacingAndGlyphs" class="s">30</text>
<text x="222.81" y="533.00" font-size="8.1" text-anchor="start" fill="#231f20" textLength="17.26" lengthAdjust="spacingAndGlyphs" class="s">years</text>
<text x="173.06" y="543.40" font-size="8.1" text-anchor="start" fill="#231f20" textLength="24.36" lengthAdjust="spacingAndGlyphs" class="s">Median</text>
<text x="198.73" y="543.40" font-size="8.1" text-anchor="start" fill="#231f20" textLength="14.75" lengthAdjust="spacingAndGlyphs" class="s">PFS:</text>
<text x="214.15" y="543.40" font-size="8.1" text-anchor="start" fill="#231f20" textLength="3.41" lengthAdjust="spacingAndGlyphs" class="s">2</text>
<text x="219.41" y="543.40" font-size="8.1" text-anchor="start" fill="#231f20" textLength="17.26" lengthAdjust="spacingAndGlyphs" class="s">years</text>
<text x="22.50" y="642.90" font-size="8.8" text-anchor="start" fill="#231f20" textLength="39.50" lengthAdjust="spacingAndGlyphs">N. of cases</text>
<line x1="22.50" y1="650.00" x2="255.00" y2="650.00" stroke="#252525" stroke-width="1.4"/>
<text x="27.00" y="661.90" font-size="8.8" text-anchor="start" fill="#231f20" textLength="45.50" lengthAdjust="spacingAndGlyphs">0 mutations</text>
<text x="22.50" y="672.90" font-size="8.8" text-anchor="start" fill="#231f20" textLength="47.00" lengthAdjust="spacingAndGlyphs">≥1 mutation</text>
<text x="84.10" y="661.90" font-size="8.8" text-anchor="middle" fill="#231f20">19</text>
<text x="84.10" y="672.90" font-size="8.8" text-anchor="middle" fill="#231f20">15</text>
<text x="130.90" y="661.90" font-size="8.8" text-anchor="middle" fill="#231f20">8</text>
<text x="130.90" y="672.90" font-size="8.8" text-anchor="middle" fill="#231f20">0</text>
<text x="176.90" y="661.90" font-size="8.8" text-anchor="middle" fill="#231f20">2</text>
<text x="176.90" y="672.90" font-size="8.8" text-anchor="middle" fill="#231f20">0</text>
<text x="223.30" y="661.90" font-size="8.8" text-anchor="middle" fill="#231f20">1</text>
<text x="223.30" y="672.90" font-size="8.8" text-anchor="middle" fill="#231f20">0</text>
<text x="392.50" y="484.90" font-size="11.8" text-anchor="start" fill="#231f20" textLength="66.70" lengthAdjust="spacingAndGlyphs">S/A/R/E panel</text>
<text x="471.30" y="501.90" font-size="7.7" text-anchor="start" fill="#231f20" textLength="28.70" lengthAdjust="spacingAndGlyphs" class="s">P &lt; 0.001</text>
<line x1="340.60" y1="490.60" x2="340.60" y2="611.50" stroke="#252525" stroke-width="1.85"/>
<line x1="339.70" y1="610.60" x2="511.70" y2="610.60" stroke="#252525" stroke-width="1.8"/>
<line x1="336.80" y1="494.20" x2="340.60" y2="494.20" stroke="#252525" stroke-width="1.3"/>
<line x1="336.80" y1="517.48" x2="340.60" y2="517.48" stroke="#252525" stroke-width="1.3"/>
<line x1="336.80" y1="540.76" x2="340.60" y2="540.76" stroke="#252525" stroke-width="1.3"/>
<line x1="336.80" y1="564.04" x2="340.60" y2="564.04" stroke="#252525" stroke-width="1.3"/>
<line x1="336.80" y1="587.32" x2="340.60" y2="587.32" stroke="#252525" stroke-width="1.3"/>
<line x1="336.80" y1="610.60" x2="340.60" y2="610.60" stroke="#252525" stroke-width="1.3"/>
<line x1="340.60" y1="610.60" x2="340.60" y2="614.40" stroke="#252525" stroke-width="1.3"/>
<line x1="375.40" y1="610.60" x2="375.40" y2="614.40" stroke="#252525" stroke-width="1.3"/>
<line x1="410.50" y1="610.60" x2="410.50" y2="614.40" stroke="#252525" stroke-width="1.3"/>
<line x1="445.40" y1="610.60" x2="445.40" y2="614.40" stroke="#252525" stroke-width="1.3"/>
<line x1="480.40" y1="610.60" x2="480.40" y2="614.40" stroke="#252525" stroke-width="1.3"/>
<text x="332.70" y="497.30" font-size="8.6" text-anchor="end" fill="#231f20">100%</text>
<text x="332.70" y="520.58" font-size="8.6" text-anchor="end" fill="#231f20">80%</text>
<text x="332.70" y="543.86" font-size="8.6" text-anchor="end" fill="#231f20">60%</text>
<text x="332.70" y="567.14" font-size="8.6" text-anchor="end" fill="#231f20">40%</text>
<text x="332.70" y="590.42" font-size="8.6" text-anchor="end" fill="#231f20">20%</text>
<text x="332.70" y="613.70" font-size="8.6" text-anchor="end" fill="#231f20">0%</text>
<text x="340.60" y="627.20" font-size="8.6" text-anchor="middle" fill="#231f20">0</text>
<text x="375.40" y="627.20" font-size="8.6" text-anchor="middle" fill="#231f20">10</text>
<text x="410.50" y="627.20" font-size="8.6" text-anchor="middle" fill="#231f20">20</text>
<text x="445.40" y="627.20" font-size="8.6" text-anchor="middle" fill="#231f20">30</text>
<text x="480.40" y="627.20" font-size="8.6" text-anchor="middle" fill="#231f20">40</text>
<text transform="translate(300.30,597.54) rotate(-90)" font-size="10.3" text-anchor="start" fill="#231f20" textLength="35.12" lengthAdjust="spacingAndGlyphs">Overall</text>
<text transform="translate(300.30,559.72) rotate(-90)" font-size="10.3" text-anchor="start" fill="#231f20" textLength="37.28" lengthAdjust="spacingAndGlyphs">survival</text>
<text transform="translate(300.30,520.00) rotate(-90)" font-size="10.3" text-anchor="start" fill="#231f20" textLength="16.13" lengthAdjust="spacingAndGlyphs">(%)</text>
<text x="340.39" y="643.30" font-size="10.1" text-anchor="start" fill="#231f20" textLength="22.79" lengthAdjust="spacingAndGlyphs">Time</text>
<text x="366.88" y="643.30" font-size="10.1" text-anchor="start" fill="#231f20" textLength="24.05" lengthAdjust="spacingAndGlyphs">from</text>
<text x="393.11" y="643.30" font-size="10.1" text-anchor="start" fill="#231f20" textLength="34.30" lengthAdjust="spacingAndGlyphs">disease</text>
<text x="430.06" y="643.30" font-size="10.1" text-anchor="start" fill="#231f20" textLength="46.44" lengthAdjust="spacingAndGlyphs">diagnosis</text>
<text x="479.29" y="643.30" font-size="10.1" text-anchor="start" fill="#231f20" textLength="31.84" lengthAdjust="spacingAndGlyphs">(years)</text>
<text x="405.60" y="509.00" font-size="8.1" text-anchor="start" fill="#231f20" textLength="38.80" lengthAdjust="spacingAndGlyphs" class="s">0 mutations</text>
<text x="393.00" y="586.30" font-size="8.1" text-anchor="start" fill="#231f20" textLength="40.00" lengthAdjust="spacingAndGlyphs" class="s">≥1 mutation</text>
<line x1="396.90" y1="539.60" x2="409.80" y2="539.60" stroke="#26447c" stroke-width="1.75"/>
<line x1="396.90" y1="550.20" x2="409.80" y2="550.20" stroke="#a2001d" stroke-width="1.75"/>
<text x="412.95" y="542.00" font-size="8.1" text-anchor="start" fill="#231f20" textLength="24.61" lengthAdjust="spacingAndGlyphs" class="s">Median</text>
<text x="438.72" y="542.00" font-size="8.1" text-anchor="start" fill="#231f20" textLength="11.68" lengthAdjust="spacingAndGlyphs" class="s">OS:</text>
<text x="451.68" y="542.00" font-size="8.1" text-anchor="start" fill="#231f20" textLength="12.63" lengthAdjust="spacingAndGlyphs" class="s">Not</text>
<text x="466.08" y="542.00" font-size="8.1" text-anchor="start" fill="#231f20" textLength="25.81" lengthAdjust="spacingAndGlyphs" class="s">reached</text>
<text x="412.95" y="552.70" font-size="8.1" text-anchor="start" fill="#231f20" textLength="24.61" lengthAdjust="spacingAndGlyphs" class="s">Median</text>
<text x="438.72" y="552.70" font-size="8.1" text-anchor="start" fill="#231f20" textLength="11.68" lengthAdjust="spacingAndGlyphs" class="s">OS:</text>
<text x="451.75" y="552.70" font-size="8.1" text-anchor="start" fill="#231f20" textLength="3.81" lengthAdjust="spacingAndGlyphs" class="s">6</text>
<text x="457.40" y="552.70" font-size="8.1" text-anchor="start" fill="#231f20" textLength="17.43" lengthAdjust="spacingAndGlyphs" class="s">years</text>
<text x="278.80" y="642.90" font-size="8.8" text-anchor="start" fill="#231f20" textLength="39.20" lengthAdjust="spacingAndGlyphs">N. of cases</text>
<line x1="278.80" y1="650.00" x2="511.70" y2="650.00" stroke="#252525" stroke-width="1.4"/>
<text x="282.50" y="661.90" font-size="8.8" text-anchor="start" fill="#231f20" textLength="45.00" lengthAdjust="spacingAndGlyphs">0 mutations</text>
<text x="278.80" y="672.90" font-size="8.8" text-anchor="start" fill="#231f20" textLength="46.70" lengthAdjust="spacingAndGlyphs">≥1 mutation</text>
<text x="340.60" y="661.90" font-size="8.8" text-anchor="middle" fill="#231f20">19</text>
<text x="340.60" y="672.90" font-size="8.8" text-anchor="middle" fill="#231f20">15</text>
<text x="375.40" y="661.90" font-size="8.8" text-anchor="middle" fill="#231f20">8</text>
<text x="375.40" y="672.90" font-size="8.8" text-anchor="middle" fill="#231f20">0</text>
<text x="410.50" y="661.90" font-size="8.8" text-anchor="middle" fill="#231f20">3</text>
<text x="410.50" y="672.90" font-size="8.8" text-anchor="middle" fill="#231f20">0</text>
<text x="445.40" y="661.90" font-size="8.8" text-anchor="middle" fill="#231f20">2</text>
<text x="445.40" y="672.90" font-size="8.8" text-anchor="middle" fill="#231f20">0</text>
<text x="480.40" y="661.90" font-size="8.8" text-anchor="middle" fill="#231f20">1</text>
<text x="480.40" y="672.90" font-size="8.8" text-anchor="middle" fill="#231f20">0</text>
<path d="M84.00,30.00 L93.00,30.00 L93.00,34.80 L97.60,34.80 L97.60,40.00 L102.40,40.00 L102.40,45.60 L107.10,45.60 L107.10,59.50 L111.50,59.50 L111.50,66.00 L135.30,66.00 L135.30,75.80 L149.50,75.80 L149.50,85.80 L153.50,85.80 L153.50,96.00 L223.40,96.00 L223.40,120.70 L232.70,120.70 L232.70,146.00" fill="none" stroke="#26447c" stroke-width="1.75" stroke-linejoin="miter" stroke-linecap="butt"/>
<line x1="97.30" y1="37.90" x2="97.30" y2="42.10" stroke="#26447c" stroke-width="1.3"/>
<line x1="102.00" y1="43.50" x2="102.00" y2="47.70" stroke="#26447c" stroke-width="1.3"/>
<line x1="111.50" y1="63.90" x2="111.50" y2="68.10" stroke="#26447c" stroke-width="1.3"/>
<line x1="130.30" y1="63.90" x2="130.30" y2="68.10" stroke="#26447c" stroke-width="1.3"/>
<line x1="163.00" y1="93.90" x2="163.00" y2="98.10" stroke="#26447c" stroke-width="1.3"/>
<line x1="167.40" y1="93.90" x2="167.40" y2="98.10" stroke="#26447c" stroke-width="1.3"/>
<line x1="172.20" y1="93.90" x2="172.20" y2="98.10" stroke="#26447c" stroke-width="1.3"/>
<path d="M340.40,30.80 L354.10,30.80 L354.10,36.60 L357.60,36.60 L357.60,42.60 L364.80,42.60 L364.80,49.40 L375.40,49.40 L375.40,57.00 L378.70,57.00 L378.70,68.10 L506.60,68.10" fill="none" stroke="#26447c" stroke-width="1.75" stroke-linejoin="miter" stroke-linecap="butt"/>
<polygon points="505.85,65.90 507.15,65.90 509.30,68.10 507.15,70.30 505.85,70.30" fill="#26447c"/>
<line x1="350.40" y1="28.70" x2="350.40" y2="32.90" stroke="#26447c" stroke-width="1.3"/>
<line x1="354.00" y1="34.50" x2="354.00" y2="38.70" stroke="#26447c" stroke-width="1.3"/>
<line x1="357.30" y1="40.50" x2="357.30" y2="44.70" stroke="#26447c" stroke-width="1.3"/>
<line x1="361.20" y1="40.50" x2="361.20" y2="44.70" stroke="#26447c" stroke-width="1.3"/>
<line x1="371.50" y1="47.30" x2="371.50" y2="51.50" stroke="#26447c" stroke-width="1.3"/>
<line x1="375.10" y1="54.90" x2="375.10" y2="59.10" stroke="#26447c" stroke-width="1.3"/>
<line x1="399.70" y1="66.00" x2="399.70" y2="70.20" stroke="#26447c" stroke-width="1.3"/>
<line x1="402.60" y1="66.00" x2="402.60" y2="70.20" stroke="#26447c" stroke-width="1.3"/>
<line x1="405.50" y1="66.00" x2="405.50" y2="70.20" stroke="#26447c" stroke-width="1.3"/>
<line x1="444.40" y1="66.00" x2="444.40" y2="70.20" stroke="#26447c" stroke-width="1.3"/>
<line x1="475.90" y1="66.00" x2="475.90" y2="70.20" stroke="#26447c" stroke-width="1.3"/>
<path d="M84.10,251.80 L97.90,251.80" fill="none" stroke="#26447c" stroke-width="1.75" stroke-linejoin="miter" stroke-linecap="butt"/>
<line x1="98.40" y1="249.70" x2="98.40" y2="253.90" stroke="#26447c" stroke-width="1.3"/>
<line x1="102.30" y1="255.90" x2="102.30" y2="260.10" stroke="#26447c" stroke-width="1.3"/>
<path d="M340.30,251.20 L385.40,251.20" fill="none" stroke="#26447c" stroke-width="1.75" stroke-linejoin="miter" stroke-linecap="butt"/>
<line x1="350.70" y1="249.10" x2="350.70" y2="253.30" stroke="#26447c" stroke-width="1.3"/>
<polygon points="384.65,249.00 385.95,249.00 388.10,251.20 385.95,253.40 384.65,253.40" fill="#26447c"/>
<path d="M88.80,494.30 L92.90,494.30 L92.90,500.50 L107.20,500.50 L107.20,516.40 L135.30,516.40 L135.30,528.10 L149.00,528.10 L149.00,540.40 L153.30,540.40 L153.30,551.80 L223.30,551.80 L223.30,581.80 L232.50,581.80 L232.50,610.60" fill="none" stroke="#26447c" stroke-width="1.75" stroke-linejoin="miter" stroke-linecap="butt"/>
<line x1="97.80" y1="498.40" x2="97.80" y2="502.60" stroke="#26447c" stroke-width="1.3"/>
<line x1="102.50" y1="498.40" x2="102.50" y2="502.60" stroke="#26447c" stroke-width="1.3"/>
<line x1="111.70" y1="514.30" x2="111.70" y2="518.50" stroke="#26447c" stroke-width="1.3"/>
<line x1="130.60" y1="514.30" x2="130.60" y2="518.50" stroke="#26447c" stroke-width="1.3"/>
<line x1="162.50" y1="549.70" x2="162.50" y2="553.90" stroke="#26447c" stroke-width="1.3"/>
<line x1="167.50" y1="549.70" x2="167.50" y2="553.90" stroke="#26447c" stroke-width="1.3"/>
<line x1="172.50" y1="549.70" x2="172.50" y2="553.90" stroke="#26447c" stroke-width="1.3"/>
<path d="M344.00,494.20 L357.80,494.20 L357.80,501.40 L378.90,501.40 L378.90,515.10 L508.50,515.10" fill="none" stroke="#26447c" stroke-width="1.75" stroke-linejoin="miter" stroke-linecap="butt"/>
<polygon points="507.75,512.90 509.05,512.90 511.20,515.10 509.05,517.30 507.75,517.30" fill="#26447c"/>
<line x1="350.70" y1="492.10" x2="350.70" y2="496.30" stroke="#26447c" stroke-width="1.3"/>
<line x1="354.30" y1="492.10" x2="354.30" y2="496.30" stroke="#26447c" stroke-width="1.3"/>
<line x1="357.70" y1="499.30" x2="357.70" y2="503.50" stroke="#26447c" stroke-width="1.3"/>
<line x1="361.10" y1="499.30" x2="361.10" y2="503.50" stroke="#26447c" stroke-width="1.3"/>
<line x1="371.80" y1="499.30" x2="371.80" y2="503.50" stroke="#26447c" stroke-width="1.3"/>
<line x1="375.50" y1="499.30" x2="375.50" y2="503.50" stroke="#26447c" stroke-width="1.3"/>
<line x1="399.50" y1="513.00" x2="399.50" y2="517.20" stroke="#26447c" stroke-width="1.3"/>
<line x1="402.50" y1="513.00" x2="402.50" y2="517.20" stroke="#26447c" stroke-width="1.3"/>
<line x1="406.70" y1="513.00" x2="406.70" y2="517.20" stroke="#26447c" stroke-width="1.3"/>
<line x1="445.50" y1="513.00" x2="445.50" y2="517.20" stroke="#26447c" stroke-width="1.3"/>
<line x1="477.50" y1="513.00" x2="477.50" y2="517.20" stroke="#26447c" stroke-width="1.3"/>
<path d="M93.15,251.80 L93.15,251.80 L93.15,258.00 L107.20,258.00 L107.20,273.40 L135.60,273.40 L135.60,285.30 L149.20,285.30 L149.20,296.80 L153.80,296.80 L153.80,308.60 L223.30,308.60 L223.30,337.60 L232.80,337.60 L232.80,366.60" fill="none" stroke="#511c62" stroke-width="1.75" stroke-linejoin="miter" stroke-linecap="butt"/>
<line x1="111.50" y1="271.30" x2="111.50" y2="275.50" stroke="#511c62" stroke-width="1.3"/>
<line x1="130.50" y1="271.30" x2="130.50" y2="275.50" stroke="#511c62" stroke-width="1.3"/>
<line x1="162.80" y1="306.50" x2="162.80" y2="310.70" stroke="#511c62" stroke-width="1.3"/>
<line x1="167.40" y1="306.50" x2="167.40" y2="310.70" stroke="#511c62" stroke-width="1.3"/>
<line x1="172.00" y1="306.50" x2="172.00" y2="310.70" stroke="#511c62" stroke-width="1.3"/>
<path d="M357.20,251.20 L357.20,251.20 L357.20,258.30 L379.30,258.30 L379.30,271.60 L508.10,271.60" fill="none" stroke="#511c62" stroke-width="1.75" stroke-linejoin="miter" stroke-linecap="butt"/>
<polygon points="507.35,269.40 508.65,269.40 510.80,271.60 508.65,273.80 507.35,273.80" fill="#511c62"/>
<line x1="357.40" y1="256.20" x2="357.40" y2="260.40" stroke="#511c62" stroke-width="1.3"/>
<line x1="361.10" y1="256.20" x2="361.10" y2="260.40" stroke="#511c62" stroke-width="1.3"/>
<line x1="371.80" y1="256.20" x2="371.80" y2="260.40" stroke="#511c62" stroke-width="1.3"/>
<line x1="375.20" y1="256.20" x2="375.20" y2="260.40" stroke="#511c62" stroke-width="1.3"/>
<line x1="399.70" y1="269.50" x2="399.70" y2="273.70" stroke="#511c62" stroke-width="1.3"/>
<line x1="402.60" y1="269.50" x2="402.60" y2="273.70" stroke="#511c62" stroke-width="1.3"/>
<line x1="405.50" y1="269.50" x2="405.50" y2="273.70" stroke="#511c62" stroke-width="1.3"/>
<line x1="445.00" y1="269.50" x2="445.00" y2="273.70" stroke="#511c62" stroke-width="1.3"/>
<line x1="476.70" y1="269.50" x2="476.70" y2="273.70" stroke="#511c62" stroke-width="1.3"/>
<path d="M88.90,251.80 L97.95,251.80 L97.95,280.70 L102.50,280.70 L102.50,309.80 L111.70,309.80 L111.70,366.60" fill="none" stroke="#60a539" stroke-width="1.75" stroke-linejoin="miter" stroke-linecap="butt"/>
<line x1="102.20" y1="307.70" x2="102.20" y2="311.90" stroke="#60a539" stroke-width="1.3"/>
<path d="M343.80,251.20 L354.10,251.20 L354.10,280.40 L364.90,280.40 L364.90,322.90 L375.40,322.90 L375.40,366.60" fill="none" stroke="#60a539" stroke-width="1.75" stroke-linejoin="miter" stroke-linecap="butt"/>
<line x1="354.10" y1="249.10" x2="354.10" y2="253.30" stroke="#60a539" stroke-width="1.3"/>
<line x1="353.90" y1="278.30" x2="353.90" y2="282.50" stroke="#60a539" stroke-width="1.3"/>
<path d="M84.00,30.00 L88.70,30.00 L88.70,92.80 L93.50,92.80 L93.50,113.90 L102.50,113.90 L102.50,146.00" fill="none" stroke="#a2001d" stroke-width="1.75" stroke-linejoin="miter" stroke-linecap="butt"/>
<line x1="97.80" y1="111.80" x2="97.80" y2="116.00" stroke="#a2001d" stroke-width="1.3"/>
<path d="M340.40,30.80 L343.60,30.80 L343.60,62.30 L347.30,62.30 L347.30,74.30 L354.20,74.30 L354.20,92.20 L361.30,92.20 L361.30,128.50 L385.50,128.50" fill="none" stroke="#a2001d" stroke-width="1.75" stroke-linejoin="miter" stroke-linecap="butt"/>
<line x1="343.40" y1="60.70" x2="343.40" y2="64.90" stroke="#a2001d" stroke-width="1.3"/>
<line x1="350.70" y1="72.20" x2="350.70" y2="76.40" stroke="#a2001d" stroke-width="1.3"/>
<polygon points="384.75,126.30 386.05,126.30 388.20,128.50 386.05,130.70 384.75,130.70" fill="#a2001d"/>
<path d="M84.10,251.80 L88.90,251.80 L88.90,321.10 L93.45,321.10 L93.45,344.40 L102.60,344.40 L102.60,366.60" fill="none" stroke="#a2001d" stroke-width="1.75" stroke-linejoin="miter" stroke-linecap="butt"/>
<line x1="97.80" y1="342.30" x2="97.80" y2="346.50" stroke="#a2001d" stroke-width="1.3"/>
<path d="M340.30,251.20 L343.80,251.20 L343.80,285.50 L347.50,285.50 L347.50,299.30 L354.40,299.30 L354.40,322.00 L361.40,322.00 L361.40,366.60" fill="none" stroke="#a2001d" stroke-width="1.75" stroke-linejoin="miter" stroke-linecap="butt"/>
<line x1="343.30" y1="283.90" x2="343.30" y2="288.10" stroke="#a2001d" stroke-width="1.3"/>
<line x1="350.60" y1="297.20" x2="350.60" y2="301.40" stroke="#a2001d" stroke-width="1.3"/>
<path d="M84.10,494.30 L88.80,494.30 L88.80,540.90 L93.50,540.90 L93.50,556.50 L97.80,556.50 L97.80,564.20 L102.50,564.20 L102.50,587.40 L111.80,587.40 L111.80,610.60" fill="none" stroke="#a2001d" stroke-width="1.75" stroke-linejoin="miter" stroke-linecap="butt"/>
<line x1="97.30" y1="562.10" x2="97.30" y2="566.30" stroke="#a2001d" stroke-width="1.3"/>
<line x1="102.50" y1="585.30" x2="102.50" y2="589.50" stroke="#a2001d" stroke-width="1.3"/>
<path d="M340.60,494.20 L344.00,494.20 L344.00,517.40 L347.40,517.40 L347.40,526.20 L354.30,526.20 L354.30,547.30 L361.30,547.30 L361.30,572.60 L365.10,572.60 L365.10,585.10 L375.40,585.10 L375.40,598.10 L385.40,598.10" fill="none" stroke="#a2001d" stroke-width="1.75" stroke-linejoin="miter" stroke-linecap="butt"/>
<line x1="343.30" y1="515.70" x2="343.30" y2="519.90" stroke="#a2001d" stroke-width="1.3"/>
<line x1="350.70" y1="524.10" x2="350.70" y2="528.30" stroke="#a2001d" stroke-width="1.3"/>
<line x1="354.00" y1="545.20" x2="354.00" y2="549.40" stroke="#a2001d" stroke-width="1.3"/>
<polygon points="384.65,595.90 385.95,595.90 388.10,598.10 385.95,600.30 384.65,600.30" fill="#a2001d"/>
</svg>
</body></html>
